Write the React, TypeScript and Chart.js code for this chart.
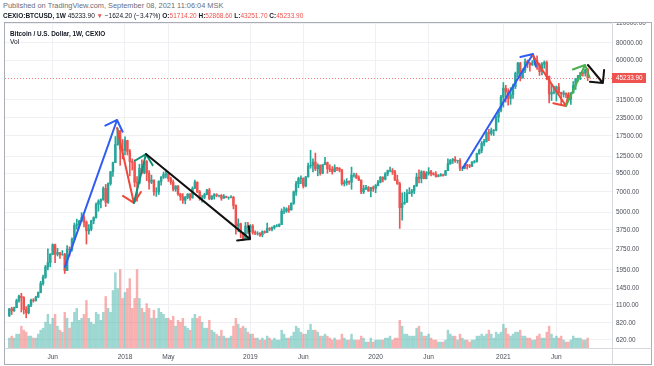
import React, { useEffect, useRef } from "react";
import { Chart, registerables } from "chart.js";
Chart.register(...registerables);

// x = weeks counted from the week of 2018-01-01; first candle is week FIRST_WEEK
const FIRST_WEEK = -48;
const FIRST_OPEN = 920;

const closes = [
  // 2017
  1030, 1000, 1050, 1180, 1270, 1240, 1020, 965, 1090, 1190,
  1180, 1250, 1350, 1560, 1730, 2050, 2200, 2520, 2950, 2520,
  2590, 2500, 2510, 1930, 2740, 2730, 3230, 4050, 4100, 4350,
  4600, 4250, 3700, 3800, 4360, 4600, 5700, 6000, 6150, 7400,
  5900, 8000, 9700, 11300, 15200, 19000, 14000, 13800,
  // 2018
  16200, 13600, 11500, 11300, 8200, 8100, 10300, 9600, 11500, 9500,
  8200, 8500, 7000, 7000, 8300, 8900, 9300, 9400, 8700, 8200,
  7300, 7700, 6750, 6450, 6100, 6400, 6750, 6350, 7400, 8200,
  7000, 6300, 6400, 6700, 7200, 6250, 6500, 6700, 6600, 6600,
  6300, 6500, 6400, 6400, 6400, 5600, 4000, 4150, 3600, 3200,
  4000, 3900,
  // 2019
  4000, 3600, 3550, 3550, 3450, 3650, 3600, 3850, 3800, 3900,
  4000, 4000, 4100, 5100, 5100, 5300, 5200, 5800, 7000, 8000,
  8700, 8750, 7700, 8950, 10700, 10800, 11400, 10200, 10800, 9500,
  10900, 11300, 10200, 10100, 9750, 10400, 10300, 10000, 8000, 8150,
  8300, 8200, 9200, 9200, 8800, 8500, 7000, 7400, 7500, 7100,
  7500, 7400,
  // 2020
  7750, 8200, 8900, 8600, 9400, 9900, 9900, 9700, 8500, 8000,
  5400, 5800, 5900, 6800, 6900, 7100, 7700, 8900, 8700, 9700,
  8700, 9450, 9700, 9450, 9300, 9000, 9100, 9250, 9200, 9900,
  11100, 11700, 11900, 11650, 11700, 10300, 10330, 10900, 10750, 10650,
  11400, 11500, 13100, 13800, 15500, 16000, 18400, 18200, 19100, 19200,
  23800, 26500, 33000,
  // 2021
  38200, 36000, 32300, 34300, 39200, 48600, 57500, 45200, 51000, 59000,
  57400, 55800, 57900, 60000, 56200, 50000, 56600, 58200, 46400, 34700,
  35600, 35800, 39000, 35600, 34700, 35300, 34200, 31800, 35400, 39900,
  44600, 47000, 49300, 48800, 51714.2, 45233.9,
];

const highs = [
  1040, 1060, 1060, 1210, 1290, 1330, 1260, 1070, 1110, 1210,
  1220, 1270, 1360, 1620, 1790, 2100, 2760, 2550, 2990, 2980,
  2780, 2600, 2680, 2560, 2910, 2850, 3300, 4200, 4480, 4400,
  4980, 4750, 4350, 4100, 4400, 4650, 5850, 6150, 6250, 7600,
  7900, 8100, 9800, 11400, 17300, 19900, 19200, 16500,
  17200, 16300, 14000, 12000, 11800, 9000, 11000, 11800, 11500, 11700,
  9900, 9200, 8500, 7500, 8400, 9000, 9700, 9950, 9600, 8900,
  8500, 7750, 7750, 6850, 6800, 6500, 6800, 6800, 7600, 8500,
  8250, 7150, 6600, 6850, 7300, 7400, 6600, 6800, 6800, 6650,
  6700, 6700, 6530, 6450, 6580, 6500, 5650, 4500, 4200, 3600,
  4250, 4250,
  4100, 4100, 3700, 3650, 3600, 3700, 3700, 4200, 3900, 3950,
  4050, 4100, 4150, 5300, 5450, 5400, 5600, 5850, 7100, 8300,
  8900, 9100, 8800, 9000, 11200, 13800, 12000, 13200, 11100, 10900,
  11000, 12300, 11400, 10900, 10600, 10900, 10450, 10400, 10100, 8500,
  8700, 8400, 10500, 9500, 9500, 9100, 8500, 7800, 7800, 7650,
  7550, 7700,
  7900, 8450, 9000, 8950, 9600, 10000, 10500, 10250, 9950, 9200,
  8200, 6900, 6950, 7250, 7500, 7300, 7800, 9500, 10050, 9900,
  9850, 9750, 10400, 9950, 9600, 9750, 9300, 9450, 9350, 9950,
  12000, 11900, 12100, 12450, 11750, 12050, 10600, 11100, 10950, 10950,
  11500, 11700, 13200, 14100, 15950, 16500, 18800, 19500, 19900, 19400,
  24300, 27000, 34000,
  41900, 40000, 37800, 38500, 40900, 49700, 58300, 58300, 52500, 61800,
  60600, 58400, 60000, 61000, 64900, 57500, 58000, 59600, 59600, 46600,
  40900, 39500, 39600, 41300, 35800, 36600, 35300, 34600, 35400, 42600,
  44900, 47100, 49400, 50500, 51900, 52868.6,
];

const lows = [
  910, 940, 990, 1050, 1150, 980, 950, 890, 950, 1070,
  1150, 1170, 1240, 1340, 1520, 1700, 1950, 2050, 2500, 2200,
  2450, 2350, 2480, 1840, 1930, 2450, 2650, 3200, 3800, 3950,
  4300, 3950, 2980, 3500, 3700, 4150, 4550, 5100, 5380, 6100,
  5500, 5800, 7800, 9000, 11300, 15000, 10800, 12000,
  12800, 12800, 9100, 10000, 7600, 6000, 8000, 9400, 9400, 8400,
  7300, 8000, 6600, 6500, 6700, 7800, 8700, 8800, 8300, 7900,
  7100, 7050, 6600, 6100, 5800, 5750, 6250, 6100, 6300, 7400,
  6900, 6100, 5900, 6250, 6650, 6150, 6150, 6200, 6450, 6450,
  6100, 6300, 6350, 6200, 6350, 5300, 3500, 3650, 3300, 3150,
  3200, 3550,
  3650, 3500, 3480, 3450, 3380, 3350, 3550, 3600, 3700, 3700,
  3800, 3950, 3950, 4100, 4900, 5000, 5000, 5200, 5700, 6600,
  7500, 8000, 7450, 7600, 8900, 10300, 9700, 9900, 9100, 9200,
  9400, 10900, 9500, 9750, 9350, 9700, 9900, 9700, 7800, 7700,
  7800, 7900, 7300, 8900, 8700, 8400, 6800, 6800, 7250, 7050,
  6450, 7050,
  6900, 7700, 8100, 8250, 8500, 9100, 9700, 9300, 8400, 7900,
  3850, 4400, 5700, 5900, 6800, 6500, 6800, 7650, 8100, 8100,
  8650, 8650, 9200, 9100, 9200, 8900, 8950, 9050, 9050, 9150,
  9900, 10950, 11150, 11350, 11200, 9900, 9900, 10200, 10150, 10400,
  10550, 11200, 11400, 12950, 13250, 14850, 15800, 16200, 17700, 17600,
  19000, 21900, 25900,
  28000, 30400, 28900, 29300, 32300, 37900, 46000, 43000, 45000, 49300,
  53300, 50500, 55500, 55600, 52000, 47000, 47500, 52900, 43800, 30000,
  31200, 34800, 31000, 34800, 28800, 33000, 32700, 31100, 29300, 35200,
  37400, 42800, 43900, 46400, 46500, 43251.7,
];

const volumes = [
  125, 150, 125, 175, 175, 275, 225, 200, 150, 150,
  125, 125, 175, 225, 250, 325, 425, 300, 375, 425,
  275, 225, 200, 450, 375, 250, 325, 450, 500, 350,
  375, 425, 600, 375, 325, 300, 450, 425, 350, 450,
  650, 500, 450, 725, 950, 750, 990, 625,
  700, 750, 875, 500, 625, 990, 625, 500, 450, 560,
  500, 375, 475, 375, 500, 450, 425, 375, 375, 350,
  400, 275, 350, 325, 375, 275, 250, 225, 375, 425,
  375, 400, 325, 250, 250, 350, 225, 200, 175, 150,
  225, 150, 125, 125, 150, 275, 375, 300, 250, 275,
  250, 200,
  175, 175, 125, 125, 100, 125, 100, 150, 125, 100,
  125, 100, 100, 225, 175, 125, 125, 150, 200, 275,
  250, 200, 175, 175, 225, 300, 225, 225, 200, 150,
  150, 175, 150, 125, 100, 125, 100, 100, 175, 125,
  100, 100, 175, 100, 100, 100, 150, 125, 75, 75,
  125, 75,
  100, 100, 100, 100, 125, 125, 150, 100, 125, 125,
  350, 275, 175, 175, 150, 150, 150, 250, 275, 200,
  150, 150, 175, 125, 100, 100, 75, 75, 75, 100,
  225, 175, 150, 150, 100, 175, 125, 100, 100, 75,
  100, 100, 150, 150, 175, 150, 175, 225, 175, 125,
  200, 175, 200,
  300, 250, 175, 150, 175, 200, 200, 225, 150, 150,
  125, 125, 100, 100, 150, 175, 125, 125, 200, 275,
  175, 125, 150, 125, 150, 100, 75, 75, 100, 150,
  125, 125, 125, 100, 100, 125,
];

const timeTickWeeks = [-30, 0, 18, 52, 74, 104, 126, 157, 179];
const timeTickLabels = ["Jun", "2018", "May", "2019", "Jun", "2020", "Jun", "2021", "Jun"];
const priceTicks = [620, 820, 1100, 1450, 1950, 2750, 3750, 5000, 7000, 9500, 12500, 17500, 23500, 31500, 60000, 80000, 110000];
const LAST_PRICE = 45233.9;

// hand-drawn arrows: [week, price] -> [week, price]
const arrowFrom = [[-24.9, 2050], [-3.3, 19900], [3.7, 5840], [8.7, 13000], [140.2, 10340], [169.3, 65000], [183, 28560], [192.1, 55800]];
const arrowTo = [[-3.3, 22700], [3.7, 5840], [8.7, 13000], [51.9, 3230], [169.3, 66800], [183, 28560], [190.9, 55800], [198.3, 41560]];
const arrowColors = ["#2f5df2", "#f0473b", "#12907a", "#111111", "#2f5df2", "#f0473b", "#4caf50", "#111111"];

const UP = "#26a69a";
const DOWN = "#ef5350";
const FONT = "'Liberation Sans', Arial, sans-serif";

export default function App() {
  const ref = useRef<HTMLCanvasElement>(null);

  useEffect(() => {
    const canvas = ref.current;
    if (!canvas) return;
    const n = Math.min(closes.length, highs.length, lows.length, volumes.length);
    const opens: number[] = [];
    for (let i = 0; i < n; i++) opens.push(i === 0 ? FIRST_OPEN : closes[i - 1]);
    const xs: number[] = [];
    for (let i = 0; i < n; i++) xs.push(FIRST_WEEK + i);
    const isUp = xs.map((_, i) => closes[i] >= opens[i]);
    const candleColors = isUp.map((u) => (u ? UP : DOWN));
    const volColors = isUp.map((u) => (u ? "rgba(38,166,154,0.45)" : "rgba(239,83,80,0.45)"));

    const overlay = {
      id: "overlay",
      beforeDraw(chart: any) {
        const ctx = chart.ctx;
        ctx.save();
        ctx.fillStyle = "#ffffff";
        ctx.fillRect(0, 0, chart.width, chart.height);
        ctx.restore();
      },
      afterDatasetsDraw(chart: any) {
        const ctx = chart.ctx;
        const ca = chart.chartArea;
        const xS = chart.scales.x;
        const yS = chart.scales.y;
        ctx.save();
        // last price line
        const py = Math.round(yS.getPixelForValue(LAST_PRICE)) + 0.5;
        ctx.strokeStyle = "rgba(239,83,80,0.75)";
        ctx.lineWidth = 1;
        ctx.setLineDash([1, 2]);
        ctx.beginPath();
        ctx.moveTo(ca.left, py);
        ctx.lineTo(ca.right, py);
        ctx.stroke();
        ctx.setLineDash([]);
        // arrows
        ctx.beginPath();
        ctx.rect(ca.left, ca.top, ca.right - ca.left, ca.bottom - ca.top);
        ctx.clip();
        ctx.lineWidth = 2;
        ctx.lineCap = "round";
        ctx.lineJoin = "round";
        for (let i = 0; i < arrowFrom.length; i++) {
          const x1 = xS.getPixelForValue(arrowFrom[i][0]);
          const y1 = yS.getPixelForValue(arrowFrom[i][1]);
          const x2 = xS.getPixelForValue(arrowTo[i][0]);
          const y2 = yS.getPixelForValue(arrowTo[i][1]);
          const a = Math.atan2(y2 - y1, x2 - x1) + Math.PI;
          const L = 13;
          const sp = Math.PI / 4;
          ctx.strokeStyle = arrowColors[i];
          ctx.beginPath();
          ctx.moveTo(x1, y1);
          ctx.lineTo(x2, y2);
          ctx.moveTo(x2 + L * Math.cos(a - sp), y2 + L * Math.sin(a - sp));
          ctx.lineTo(x2, y2);
          ctx.lineTo(x2 + L * Math.cos(a + sp), y2 + L * Math.sin(a + sp));
          ctx.stroke();
        }
        ctx.restore();
      },
      afterDraw(chart: any) {
        const ctx = chart.ctx;
        const ca = chart.chartArea;
        const yS = chart.scales.y;
        ctx.save();
        // frame
        ctx.strokeStyle = "#a9acb5";
        ctx.lineWidth = 1;
        ctx.strokeRect(4.5, 0.5, chart.width - 7, chart.height - 2);
        ctx.strokeStyle = "#d6d8de";
        ctx.beginPath();
        ctx.moveTo(Math.round(ca.right) + 0.5, 0);
        ctx.lineTo(Math.round(ca.right) + 0.5, chart.height - 1.5);
        ctx.moveTo(4.5, Math.round(ca.bottom) + 0.5);
        ctx.lineTo(chart.width - 2.5, Math.round(ca.bottom) + 0.5);
        ctx.stroke();
        // last price label
        const py = yS.getPixelForValue(LAST_PRICE);
        ctx.fillStyle = "#ef5350";
        ctx.fillRect(Math.round(ca.right), Math.round(py) - 5, 34, 10);
        ctx.fillStyle = "#ffffff";
        ctx.font = `6.4px ${FONT}`;
        ctx.textBaseline = "middle";
        ctx.textAlign = "left";
        ctx.fillText(LAST_PRICE.toFixed(2), Math.round(ca.right) + 4, Math.round(py) + 0.5);
        ctx.restore();
      },
    };

    const chart = new Chart(canvas, {
      type: "bar",
      data: {
        datasets: [
          {
            label: "Vol",
            data: xs.map((x, i) => ({ x, y: volumes[i] })),
            yAxisID: "v",
            backgroundColor: volColors,
            barThickness: 1.8,
            grouped: false,
            order: 3,
          } as any,
          {
            label: "wick",
            data: xs.map((x, i) => ({ x, y: [lows[i], highs[i]] })),
            yAxisID: "y",
            backgroundColor: candleColors,
            barThickness: 1,
            grouped: false,
            order: 2,
          } as any,
          {
            label: "body",
            data: xs.map((x, i) => ({ x, y: [opens[i], closes[i]] })),
            yAxisID: "y",
            backgroundColor: candleColors,
            barThickness: 1.8,
            grouped: false,
            order: 1,
          } as any,
        ],
      },
      options: {
        animation: false,
        responsive: false,
        devicePixelRatio: 1,
        layout: { padding: { left: 5, top: 1, right: 3, bottom: 2 } },
        plugins: { legend: { display: false }, tooltip: { enabled: false } },
        scales: {
          x: {
            type: "linear",
            min: -49.79,
            max: 202.08,
            offset: false,
            grid: { color: "#eef0f4", drawTicks: false, offset: false },
            border: { display: false },
            afterBuildTicks: (s: any) => {
              s.ticks = timeTickWeeks.map((v) => ({ value: v }));
            },
            afterFit: (s: any) => {
              s.height = 16;
              s.paddingLeft = 0;
              s.paddingRight = 0;
            },
            ticks: {
              autoSkip: false,
              maxRotation: 0,
              padding: 5,
              color: "#4a4d57",
              font: { family: FONT, size: 6.6 },
              callback: (v: any) => {
                const k = timeTickWeeks.indexOf(Number(v));
                return k >= 0 ? timeTickLabels[k] : "";
              },
            },
          },
          y: {
            type: "logarithmic",
            position: "right",
            min: 543.5,
            max: 110970,
            grid: { color: "#eef0f4", drawTicks: false },
            border: { display: false },
            afterBuildTicks: (s: any) => {
              s.ticks = priceTicks.map((v) => ({ value: v }));
            },
            afterFit: (s: any) => {
              s.width = 39;
              s.paddingTop = 0;
              s.paddingBottom = 0;
            },
            ticks: {
              autoSkip: false,
              padding: 4,
              color: "#4a4d57",
              font: { family: FONT, size: 6.4 },
              callback: (v: any) => Number(v).toFixed(2),
            },
          },
          v: {
            type: "linear",
            display: false,
            min: 0,
            max: 4100,
          },
        },
      } as any,
      plugins: [overlay],
    });
    return () => chart.destroy();
  }, []);

  const red = { color: "#ef5350" };
  const dark = { color: "#131722", fontWeight: 700 as const };
  return (
    <div style={{ position: "absolute", left: 0, top: 0, width: 654, height: 366, background: "#fff", overflow: "hidden", fontFamily: FONT }}>
      <canvas ref={ref} width={654} height={344} style={{ position: "absolute", left: 0, top: 22, width: 654, height: 344, display: "block" }} />
      <div style={{ position: "absolute", left: 3, top: 1, fontSize: 7.4, lineHeight: "9px", color: "#6a6d78", whiteSpace: "nowrap" }}>
        Published on TradingView.com, September 08, 2021 11:06:04 MSK
      </div>
      <div style={{ position: "absolute", left: 3, top: 10.5, fontSize: 6.5, lineHeight: "9px", color: "#131722", whiteSpace: "nowrap" }}>
        <span style={dark}>CEXIO:BTCUSD, 1W</span> 45233.90 <span style={red}>▼</span> −1624.20 (−3.47%){" "}
        <span style={dark}>O:</span><span style={red}>51714.20</span> <span style={dark}>H:</span><span style={red}>52868.60</span>{" "}
        <span style={dark}>L:</span><span style={red}>43251.70</span> <span style={dark}>C:</span><span style={red}>45233.90</span>
      </div>
      <div style={{ position: "absolute", left: 10, top: 28.5, fontSize: 6.4, lineHeight: "9px", color: "#131722", fontWeight: 700, whiteSpace: "nowrap" }}>
        Bitcoin / U.S. Dollar, 1W, CEXIO
      </div>
      <div style={{ position: "absolute", left: 10, top: 37, fontSize: 6.6, lineHeight: "9px", color: "#131722", whiteSpace: "nowrap" }}>
        Vol
      </div>
    </div>
  );
}
